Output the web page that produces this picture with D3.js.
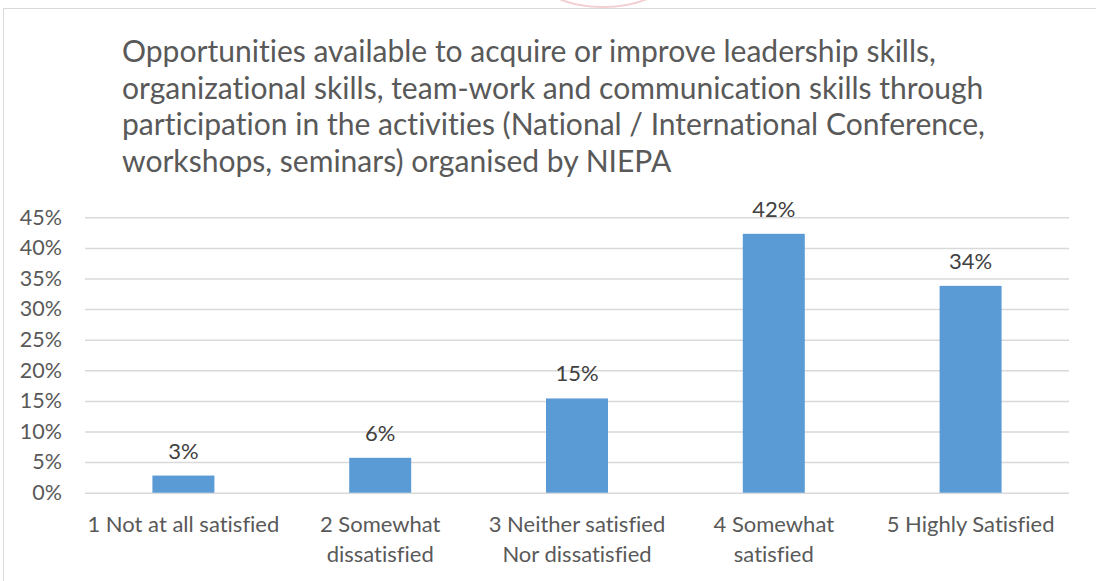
<!DOCTYPE html>
<html>
<head>
<meta charset="utf-8">
<script src="https://cdn.jsdelivr.net/npm/d3@7"></script>
<style>
  html, body { margin: 0; padding: 0; background: #fff; }
  text { font-family: Lato, "Open Sans", sans-serif; font-variant-ligatures: none; }
</style>
</head>
<body>
<div id="chart"></div>
<script>
var width = 1096,
    height = 581;

// data
var categories = ["1 Not at all satisfied", "2 Somewhat dissatisfied", "3 Neither satisfied Nor dissatisfied", "4 Somewhat satisfied", "5 Highly Satisfied"];
var catLines = [["1 Not at all satisfied"], ["2 Somewhat", "dissatisfied"], ["3 Neither satisfied", "Nor dissatisfied"], ["4 Somewhat", "satisfied"], ["5 Highly Satisfied"]];
var values = [0.028, 0.057, 0.154, 0.423, 0.338];
var yTicks = [0, 0.05, 0.10, 0.15, 0.20, 0.25, 0.30, 0.35, 0.40, 0.45];
var titleLines = [
  "Opportunities available to acquire or improve leadership skills,",
  "organizational skills, team-work and communication skills through",
  "participation in the activities (National / International Conference,",
  "workshops, seminars) organised by NIEPA"
];

var svg = d3.select("#chart").append("svg")
    .attr("width", width)
    .attr("height", height);

// faint seal behind the chart at the top
svg.append("ellipse")
    .attr("cx", 603).attr("cy", -42)
    .attr("rx", 80).attr("ry", 49)
    .attr("fill", "none")
    .attr("stroke", "#f4cfd1")
    .attr("stroke-width", 2);

// chart area border
svg.append("path")
    .attr("d", "M3.5,590 V8.5 H1100")
    .attr("fill", "#fff")
    .attr("stroke", "#d9d9d9")
    .attr("stroke-width", 1);

var x = d3.scaleBand()
    .domain(categories)
    .range([85, 1069])
    .paddingInner(0.685)
    .paddingOuter(0.3425);

var y = d3.scaleLinear()
    .domain([0, 0.45])
    .range([492.7, 217.3]);

// gridlines + y labels
var yAxis = d3.axisLeft(y)
    .tickValues(yTicks)
    .tickFormat(d3.format(".0%"))
    .tickSize(-(1069 - 85))
    .tickPadding(23);

var gy = svg.append("g")
    .attr("transform", "translate(85,0)")
    .call(yAxis);
gy.select(".domain").remove();
gy.selectAll(".tick line")
    .attr("stroke", "#d9d9d9")
    .attr("stroke-width", 1.5);
gy.selectAll(".tick text")
    .attr("fill", "#595959")
    .style("font-size", "21.5px")
    .style("font-family", "Lato, sans-serif");

// bars
svg.append("g").selectAll("rect")
    .data(values)
    .enter().append("rect")
    .attr("x", function (d, i) { return x(categories[i]); })
    .attr("y", function (d) { return y(d); })
    .attr("width", x.bandwidth())
    .attr("height", function (d) { return y(0) - y(d); })
    .attr("fill", "#5b9bd5");

// data labels
svg.append("g").selectAll("text")
    .data(values)
    .enter().append("text")
    .attr("x", function (d, i) { return x(categories[i]) + x.bandwidth() / 2; })
    .attr("y", function (d) { return y(d) - 17; })
    .attr("text-anchor", "middle")
    .attr("fill", "#404040")
    .style("font-size", "22px")
    .text(function (d) { return d3.format(".0%")(d); });

// category labels
var gx = svg.append("g");
catLines.forEach(function (lines, i) {
  var t = gx.append("text")
      .attr("x", x(categories[i]) + x.bandwidth() / 2)
      .attr("y", 532)
      .attr("text-anchor", "middle")
      .attr("fill", "#595959")
      .style("font-size", "22px");
  lines.forEach(function (l, j) {
    t.append("tspan")
      .attr("x", x(categories[i]) + x.bandwidth() / 2)
      .attr("dy", j == 0 ? 0 : 30)
      .text(l);
  });
});

// title, sized so the first line matches the picture
var title = svg.append("text")
    .attr("x", 122)
    .attr("y", 62)
    .attr("fill", "#595959")
    .style("font-size", "26px");
titleLines.forEach(function (l, j) {
  title.append("tspan")
    .attr("x", 122)
    .attr("dy", j == 0 ? 0 : 36.7)
    .text(l);
});
var w1 = title.select("tspan").node().getComputedTextLength();
title.style("font-size", (26 * 814 / w1) + "px");
</script>
</body>
</html>
